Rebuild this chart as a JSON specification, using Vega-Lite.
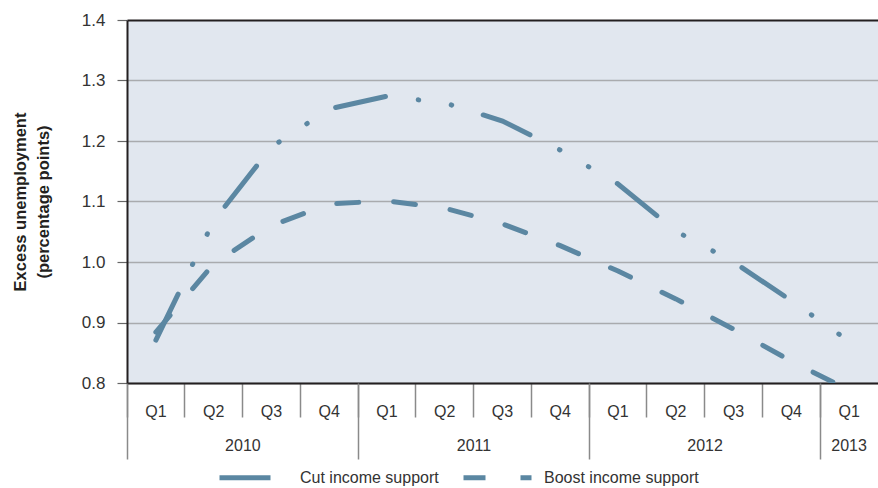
{
  "$schema": "https://vega.github.io/schema/vega-lite/v6.json",
  "width": 751,
  "height": 363,
  "autosize": {"type": "none"},
  "padding": {"left": 127, "top": 20, "right": 0, "bottom": 105},
  "background": "white",
  "config": {
    "view": {"fill": "#e1e7ef", "stroke": null},
    "font": "Liberation Sans",
    "axis": {"labelColor": "#333333", "titleColor": "#231f20"}
  },
  "data": {
    "values": [
      {"t": "2010 Q1", "series": "Cut income support", "v": 0.871},
      {"t": "2010 Q2", "series": "Cut income support", "v": 1.068},
      {"t": "2010 Q3", "series": "Cut income support", "v": 1.190},
      {"t": "2010 Q4", "series": "Cut income support", "v": 1.253},
      {"t": "2011 Q1", "series": "Cut income support", "v": 1.274},
      {"t": "2011 Q2", "series": "Cut income support", "v": 1.263},
      {"t": "2011 Q3", "series": "Cut income support", "v": 1.233},
      {"t": "2011 Q4", "series": "Cut income support", "v": 1.185},
      {"t": "2012 Q1", "series": "Cut income support", "v": 1.129},
      {"t": "2012 Q2", "series": "Cut income support", "v": 1.051},
      {"t": "2012 Q3", "series": "Cut income support", "v": 1.000},
      {"t": "2012 Q4", "series": "Cut income support", "v": 0.936},
      {"t": "2013 Q1", "series": "Cut income support", "v": 0.869},
      {"t": "2010 Q1", "series": "Boost income support", "v": 0.884},
      {"t": "2010 Q2", "series": "Boost income support", "v": 0.997},
      {"t": "2010 Q3", "series": "Boost income support", "v": 1.060},
      {"t": "2010 Q4", "series": "Boost income support", "v": 1.096},
      {"t": "2011 Q1", "series": "Boost income support", "v": 1.101},
      {"t": "2011 Q2", "series": "Boost income support", "v": 1.089},
      {"t": "2011 Q3", "series": "Boost income support", "v": 1.063},
      {"t": "2011 Q4", "series": "Boost income support", "v": 1.027},
      {"t": "2012 Q1", "series": "Boost income support", "v": 0.985},
      {"t": "2012 Q2", "series": "Boost income support", "v": 0.939},
      {"t": "2012 Q3", "series": "Boost income support", "v": 0.889},
      {"t": "2012 Q4", "series": "Boost income support", "v": 0.836},
      {"t": "2013 Q1", "series": "Boost income support", "v": 0.788}
    ]
  },
  "layer": [
    {
      "transform": [{"filter": "datum.series == 'Cut income support'"}],
      "mark": {"type": "line", "strokeWidth": 5, "strokeCap": "round", "clip": true, "color": "#5b87a2"},
      "encoding": {
        "x": {
          "field": "t", "type": "ordinal", "bandPosition": 0.5,
          "scale": {"type": "band", "paddingInner": 0, "paddingOuter": 0},
          "axis": {
            "orient": "bottom", "title": null, "labelAngle": 0,
            "labelExpr": "split(datum.label, ' ')[1]",
            "bandPosition": 0, "tickExtra": false,
            "tickSize": 34, "tickColor": "#8a8a8a", "tickWidth": 1.5,
            "labelPadding": -14, "labelBaseline": "top", "labelFontSize": 16,
            "domainColor": "#231f20", "domainWidth": 2, "grid": false
          }
        },
        "y": {
          "field": "v", "type": "quantitative",
          "scale": {"domain": [0.8, 1.4], "nice": false, "zero": false},
          "axis": {
            "title": ["Excess unemployment", "(percentage points)"],
            "titleFontSize": 16.5, "titleFontWeight": "bold", "titleLineHeight": 23, "titlePadding": 30,
            "values": [0.8, 0.9, 1.0, 1.1, 1.2, 1.3, 1.4], "format": ".1f",
            "grid": true,
            "gridColor": {"condition": {"test": "datum.value > 1.39", "value": "#231f20"}, "value": "#a9abae"},
            "gridWidth": {"condition": {"test": "datum.value > 1.39", "value": 2}, "value": 1.5},
            "tickSize": 10, "tickColor": "#666666", "tickWidth": 1.2,
            "labelPadding": 12, "labelFontSize": 17,
            "domainColor": "#231f20", "domainWidth": 2
          }
        },
        "strokeDash": {
          "field": "series", "type": "nominal",
          "scale": {"domain": ["Cut income support", "Boost income support"], "range": [[51, 33, 0.5, 33, 0.5, 33], [22, 35]]},
          "legend": {
            "orient": "none", "legendX": 90, "legendY": 421, "direction": "horizontal", "title": null,
            "symbolType": "stroke", "symbolSize": 4624, "symbolStrokeWidth": 5, "symbolStrokeColor": "#5b87a2",
            "labelFontSize": 16, "labelColor": "#333333", "labelOffset": 10, "columnPadding": 14
          }
        }
      }
    },
    {
      "transform": [{"filter": "datum.series == 'Boost income support'"}],
      "mark": {"type": "line", "strokeWidth": 5, "strokeCap": "round", "clip": true, "color": "#5b87a2"},
      "encoding": {
        "x": {
          "field": "t", "type": "ordinal", "bandPosition": 0.5,
          "axis": {
            "orient": "bottom", "title": null, "labelAngle": 0,
            "values": ["2010 Q1", "2011 Q1", "2012 Q1", "2013 Q1"],
            "labelExpr": "split(datum.label, ' ')[0]",
            "bandPosition": 0, "tickExtra": false,
            "tickSize": 76, "tickColor": "#8a8a8a", "tickWidth": 1.5,
            "labelPadding": -22, "labelBaseline": "top", "labelFontSize": 16,
            "labelOffset": {"condition": {"test": "datum.value == '2013 Q1'", "value": 0}, "value": 87},
            "domain": false, "grid": false
          }
        },
        "y": {"field": "v", "type": "quantitative"},
        "strokeDash": {"field": "series", "type": "nominal"}
      }
    }
  ],
  "resolve": {"axis": {"x": "independent"}}
}
